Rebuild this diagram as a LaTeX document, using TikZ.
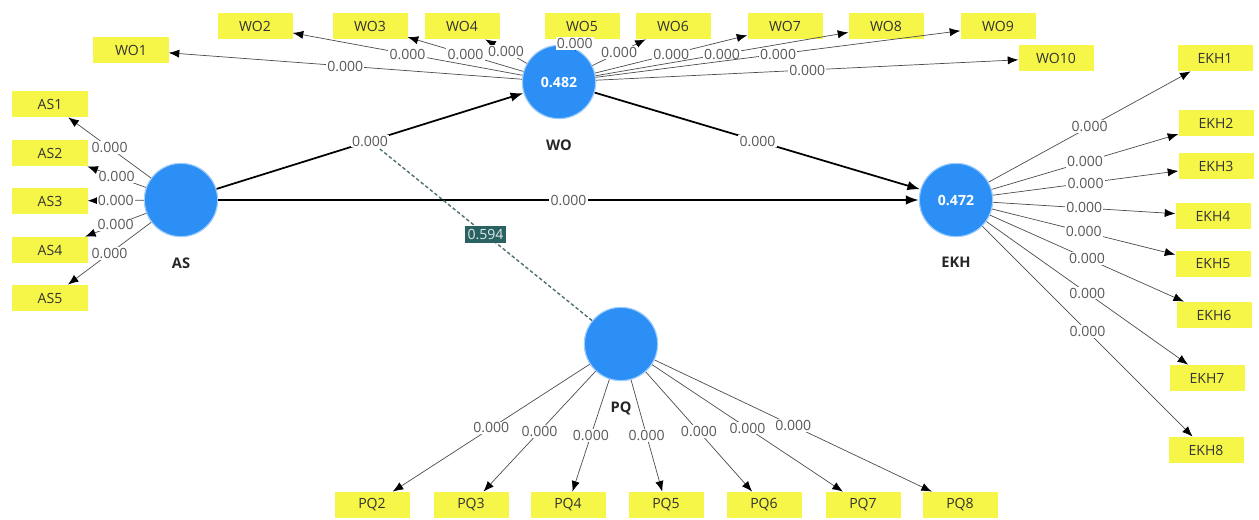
\documentclass[tikz,border=0pt]{standalone}
\usepackage{fontspec}
\setmainfont{Open Sans}
\usepackage{xcolor}
\usetikzlibrary{arrows.meta, positioning}

\definecolor{plsblue}{RGB}{44,143,245}
\definecolor{plsyellow}{RGB}{246,246,72}
\definecolor{plsteal}{RGB}{42,98,98}
\definecolor{plsdash}{RGB}{80,112,116}

\tikzset{
  construct/.style={circle, fill=plsblue, draw=plsblue!45!white, line width=1pt,
    minimum size=2.2cm, inner sep=0pt, text=white, font=\fontsize{12}{14}\selectfont\bfseries},
  conname/.style={inner sep=0pt, text=black!85, font=\fontsize{12.5}{14}\selectfont\bfseries},
  indicator/.style={fill=plsyellow, minimum width=2.25cm, minimum height=0.79cm,
    inner sep=0pt, text=black!80, font=\fontsize{12}{14}\selectfont},
  loading/.style={draw=black!70, line width=0.6pt, -{Latex[length=9pt,width=7pt,color=black]}},
  structural/.style={draw=black, line width=1.5pt, -{Latex[length=11pt,width=8pt]}},
  weight/.style={fill=white, inner sep=1pt, text=black!65, font=\fontsize{12}{14}\selectfont},
  effect/.style={fill=plsteal, inner sep=2.5pt, text=white!85!plsteal, font=\fontsize{12}{14}\selectfont},
  moderate/.style={draw=plsdash, line width=1.2pt, dash pattern=on 3pt off 2pt}
}

\begin{document}
\begin{tikzpicture}[x=0.03cm, y=-0.03cm]
\useasboundingbox (0,0) rectangle (1259,519);

% latent variables
\node[construct] (AS)  at (181,200) {};
\node[construct] (WO)  at (559,82)  {0.482};
\node[construct] (EKH) at (956,200) {0.472};
\node[construct] (PQ)  at (621,344) {};

\node[conname, below=0.6cm of AS]  (ASname)  {AS};
\node[conname, below=0.6cm of WO]  (WOname)  {WO};
\node[conname, below=0.6cm of EKH] (EKHname) {EKH};
\node[conname, below=0.6cm of PQ]  (PQname)  {PQ};

% indicators
\foreach \n/\y in {1/104, 2/153, 3/201, 4/250, 5/298}
  \node[indicator] (AS\n) at (50,\y) {AS\n};
\foreach \n/\x/\y in {1/131/50, 2/255/26, 3/370/26, 4/462/26, 5/582/26,
                      6/673/26, 7/785/26, 8/886/26, 9/998/26, 10/1056/58}
  \node[indicator] (WO\n) at (\x,\y) {WO\n};
\foreach \n/\x/\y in {1/1215/58, 2/1216/123, 3/1216/166, 4/1213/216,
                      5/1213/264, 6/1214/315, 7/1207/378, 8/1206/450}
  \node[indicator] (EKH\n) at (\x,\y) {EKH\n};
\foreach \n/\x in {2/372, 3/471, 4/568, 5/666, 6/764, 7/863, 8/960}
  \node[indicator] (PQ\n) at (\x,505) {PQ\n};

% outer loadings
\foreach \n in {1,...,5}
  \draw[loading] (AS) -- node[weight] {0.000} (AS\n);
\foreach \n in {1,...,10}
  \draw[loading] (WO) -- node[weight] {0.000} (WO\n);
\foreach \n in {1,...,8}
  \draw[loading] (EKH) -- node[weight] {0.000} (EKH\n);
\foreach \n in {2,...,8}
  \draw[loading] (PQ) -- node[weight] {0.000} (PQ\n);

% inner model
\draw[structural] (AS) -- node[weight] (mod) {0.000} (WO);
\draw[structural] (AS) -- node[weight] {0.000} (EKH);
\draw[structural] (WO) -- node[weight] {0.000} (EKH);

% moderating effect
\draw[moderate] (PQ) -- node[effect] {0.594} (mod);

\end{tikzpicture}
\end{document}
